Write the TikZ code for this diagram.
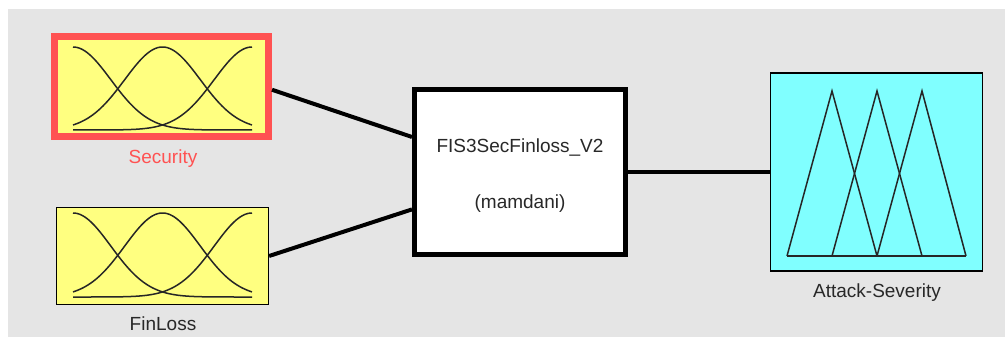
\documentclass[tikz,border=0pt]{standalone}
\usepackage{fontspec}
\setmainfont{Liberation Sans}
\usetikzlibrary{calc}
\definecolor{bg}{RGB}{229,229,229}
\definecolor{mfyellow}{RGB}{255,255,128}
\definecolor{mfcyan}{RGB}{128,255,255}
\definecolor{selred}{RGB}{255,82,82}
\definecolor{txt}{RGB}{40,40,40}
\tikzset{
  varbox/.style={draw=black, line width=1.2pt, inner sep=0pt},
  fisbox/.style={draw=black, fill=white, line width=5pt, inner sep=0pt},
  lbl/.style={font=\fontsize{19}{22}\selectfont, text=txt, inner sep=0pt, anchor=base},
  conn/.style={line width=4pt, black},
  mf/.style={line width=1.5pt, black!85}
}
\begin{document}
\begin{tikzpicture}[x=1pt,y=-1pt]
\useasboundingbox (0,0) rectangle (1005,337);
\fill[white] (0,0) rectangle (1005,337);
\fill[bg] (8,9.5) rectangle (1005,337);

% boxes
\node[varbox, draw=selred, line width=7pt, fill=mfyellow, minimum width=214pt, minimum height=99.5pt] (sec) at (161.5,86.75) {};
\node[varbox, fill=mfyellow, minimum width=212pt, minimum height=97pt] (fin) at (162.5,256) {};
\node[fisbox, minimum width=211pt, minimum height=165pt] (fis) at (520,172) {};
\node[varbox, fill=mfcyan, minimum width=212pt, minimum height=198pt] (att) at (876.5,172) {};

% labels
\node[lbl, text=selred] (seclbl) at (163,164) {Security};
\node[lbl] (finlbl) at (163,330) {FinLoss};
\node[lbl] (attlbl) at (877,297) {Attack-Severity};
\node[lbl] (fisname) at (520,153) {FIS3SecFinloss\_V2};
\node[lbl] (fistype) at (520,208) {(mamdani)};

% gaussian MFs
\foreach \c in {73,162.5,252}{
  \draw[mf, domain=73:252, samples=90] plot (\x, {130 - 83*exp(-0.5*((\x-\c)/37.8)^2)});
  \draw[mf, domain=73:252, samples=90] plot (\x, {297 - 84*exp(-0.5*((\x-\c)/37.8)^2)});
}

% triangular MFs
\draw[mf, line join=miter] (787,256) -- (832,91) -- (877,256);
\draw[mf, line join=miter] (832,256) -- (877,91) -- (922,256);
\draw[mf, line join=miter] (877,256) -- (922,91) -- (966,256);
\draw[mf] (787,256) -- (966,256);

% connectors
\coordinate (fisin1) at ($(fis.north west)!0.294!(fis.south west)$);
\coordinate (fisin2) at ($(fis.north west)!0.72!(fis.south west)$);
\draw[conn] ($(sec.east)+(0,3)$) -- (fisin1);
\draw[conn] (fin.east) -- (fisin2);
\draw[conn] (fis.east) -- (att.west);
\end{tikzpicture}
\end{document}
